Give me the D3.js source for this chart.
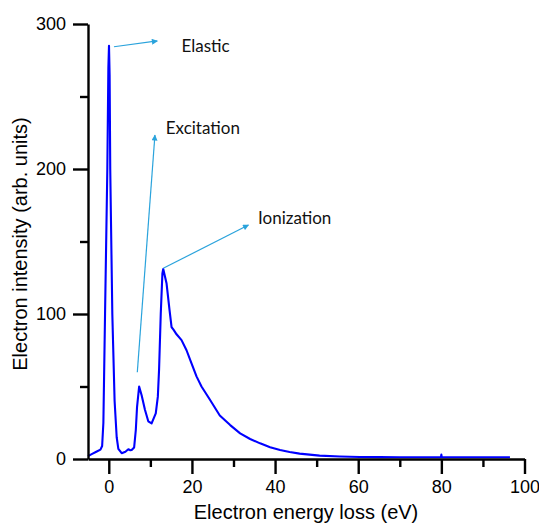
<!DOCTYPE html>
<html>
<head>
<meta charset="utf-8">
<script src="https://cdn.jsdelivr.net/npm/d3@7"></script>
<style>
  html, body { margin: 0; padding: 0; background: #fff; }
  svg { display: block; }
</style>
</head>
<body>
<svg id="chart" width="539" height="523"></svg>
<script>
// ---- data ----
const energyLoss = [-5, -4, -3, -2, -1.6, -1.3, -0.9, -0.35, -0.1, 0.05, 0.2, 0.35, 0.85, 1.4, 1.9, 2.3, 3.1, 4, 4.7, 5.2, 5.5, 6.1, 6.5, 6.8, 7.3, 7.9, 8.7, 9.5, 10.3, 11.3, 11.8, 12.1, 12.5, 12.9, 13.1, 13.5, 13.9, 14.6, 15.1, 15.6, 16.3, 17.5, 18.7, 19.9, 21.1, 22.3, 24.3, 26.7, 29.2, 31.6, 34, 36.4, 38.8, 41.2, 43.5, 45.9, 50.7, 55.6, 60.4, 65.2, 70, 75, 79.9, 80, 80.1, 85, 90, 96.5];
const intensity  = [2, 3.5, 5, 6.5, 9, 25, 100, 200, 270, 285, 265, 200, 100, 40, 15, 7, 4, 5, 6.7, 6, 6.2, 8, 20, 36, 50, 44, 34, 26, 24.5, 31.5, 43, 62, 100, 128, 131, 126, 121, 103, 91, 89, 86, 82, 75, 66, 57, 50, 41, 30, 23.4, 17.7, 13.8, 10.8, 8.1, 6.2, 4.8, 3.7, 2.3, 1.7, 1.4, 1.3, 1.2, 1.2, 1.2, 3, 1.2, 1.2, 1.2, 1.2];

const xMajorTicks = [0, 20, 40, 60, 80, 100];
const xMinorTicks = [10, 30, 50, 70, 90];
const yMajorTicks = [0, 100, 200, 300];
const yMinorTicks = [50, 150, 250];

const annLabels = ["Elastic", "Excitation", "Ionization"];
const annArrowFromX = [1.25, 6.86, 13.1];
const annArrowFromY = [284.3, 59.8, 131.5];
const annArrowToX = [11.67, 11.1, 33.6];
const annArrowToY = [288.3, 223.4, 161.4];
const annTextX = [17.5, 13.7, 35.9];
const annTextY = [281, 224, 162];

const xTitle = "Electron energy loss (eV)";
const yTitle = "Electron intensity (arb. units)";

// ---- layout ----
const svg = d3.select("#chart");
const mLeft = 88, mRight = 524.5, mTop = 24, mBottom = 459;

const x = d3.scaleLinear().domain([-5, 100]).range([mLeft, mRight]);
const y = d3.scaleLinear().domain([0, 300]).range([mBottom, mTop]);

const axisFont = "'Liberation Sans', Arial, sans-serif";

// data line
const pts = energyLoss.map((e, i) => [e, intensity[i]]);
svg.append("path")
  .datum(pts)
  .attr("fill", "none")
  .attr("stroke", "#0000ff")
  .attr("stroke-width", 2.1)
  .attr("stroke-linejoin", "round")
  .attr("d", d3.line().x(d => x(d[0])).y(d => y(d[1])));

// axes
function styleAxis(g) {
  g.selectAll("path.domain").attr("stroke", "#000").attr("stroke-width", 2.4);
  g.selectAll(".tick line").attr("stroke", "#000").attr("stroke-width", 2.4);
  g.selectAll(".tick text").attr("fill", "#000").style("font-family", axisFont).style("font-size", "18px");
}

const xAxisG = svg.append("g").attr("transform", `translate(0,${mBottom})`)
  .call(d3.axisBottom(x).tickValues(xMajorTicks).tickSize(15).tickPadding(6).tickSizeOuter(0).tickFormat(d3.format("d")));
styleAxis(xAxisG);
const xMinorG = svg.append("g").attr("transform", `translate(0,${mBottom})`)
  .call(d3.axisBottom(x).tickValues(xMinorTicks).tickSize(8).tickSizeOuter(0).tickFormat(""));
styleAxis(xMinorG);
xMinorG.select("path.domain").remove();

const yAxisG = svg.append("g").attr("transform", `translate(${mLeft},0)`)
  .call(d3.axisLeft(y).tickValues(yMajorTicks).tickSize(15).tickPadding(7).tickSizeOuter(0).tickFormat(d3.format("d")));
styleAxis(yAxisG);
const yMinorG = svg.append("g").attr("transform", `translate(${mLeft},0)`)
  .call(d3.axisLeft(y).tickValues(yMinorTicks).tickSize(8).tickSizeOuter(0).tickFormat(""));
styleAxis(yMinorG);
yMinorG.select("path.domain").remove();

// axis titles
svg.append("text")
  .attr("x", 306).attr("y", 519)
  .attr("text-anchor", "middle")
  .style("font-family", axisFont).style("font-size", "20px")
  .text(xTitle);
svg.append("text")
  .attr("transform", "translate(27,244) rotate(-90)")
  .attr("text-anchor", "middle")
  .style("font-family", axisFont).style("font-size", "20px")
  .text(yTitle);

// annotations
const arrowColor = "#2aa3dc";
svg.append("defs").append("marker")
  .attr("id", "arrowhead")
  .attr("viewBox", "0 0 10 10")
  .attr("refX", 9).attr("refY", 5)
  .attr("markerWidth", 7).attr("markerHeight", 6)
  .attr("markerUnits", "userSpaceOnUse")
  .attr("orient", "auto")
  .append("path").attr("d", "M0,0 L10,5 L0,10 Z").attr("fill", arrowColor);

annLabels.forEach((lab, i) => {
  svg.append("line")
    .attr("x1", x(annArrowFromX[i])).attr("y1", y(annArrowFromY[i]))
    .attr("x2", x(annArrowToX[i])).attr("y2", y(annArrowToY[i]))
    .attr("stroke", arrowColor).attr("stroke-width", 1.2)
    .attr("marker-end", "url(#arrowhead)");
  svg.append("text")
    .attr("x", x(annTextX[i])).attr("y", y(annTextY[i]))
    .style("font-family", "Lato, 'Open Sans', sans-serif").style("font-size", "17px")
    .attr("fill", "#111")
    .text(lab);
});
</script>
</body>
</html>
